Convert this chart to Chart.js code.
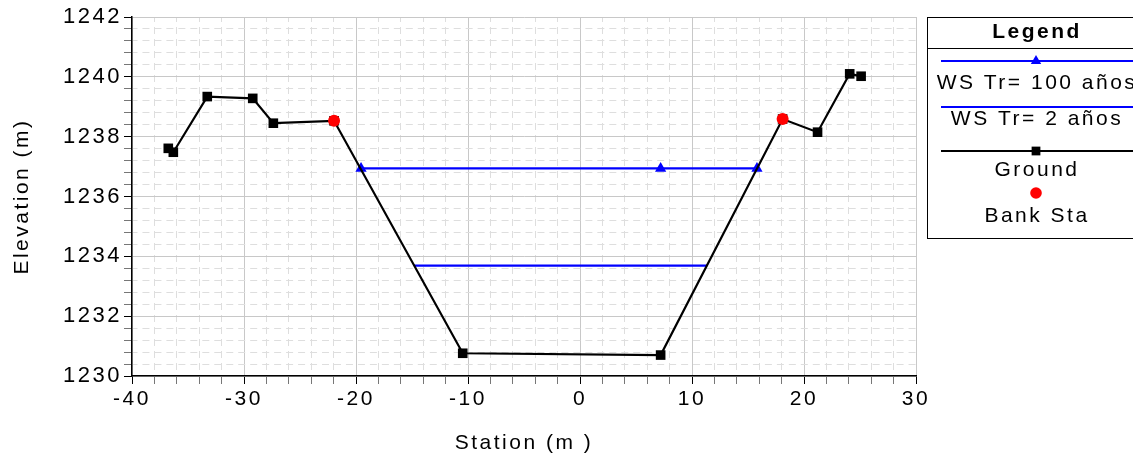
<!DOCTYPE html>
<html>
<head>
<meta charset="utf-8">
<script src="https://cdn.jsdelivr.net/npm/chart.js@4.4.0/dist/chart.umd.min.js"></script>
<style>
  html, body { margin: 0; padding: 0; background: #fff; }
  #chart { display: block; }
</style>
</head>
<body>
<canvas id="chart" width="1133" height="459"></canvas>
<script>
// Cross section data
const groundStation = [-36.76, -36.31, -33.28, -29.22, -27.38, -21.96, -10.47, 7.2, 18.09, 21.21, 24.08, 25.1]
const groundElevation = [1237.61, 1237.48, 1239.34, 1239.28, 1238.45, 1238.53, 1230.76, 1230.70, 1238.59, 1238.15, 1240.10, 1240.02]
const bankStation = [-21.96, 18.09]
const bankElevation = [1238.53, 1238.59]
const ws100Station = [-19.55, 7.2, 15.8]
const ws100Elevation = [1236.94, 1236.94, 1236.94]
const ws2Station = [-14.8, 11.35]
const ws2Elevation = [1233.69, 1233.69]

const xTicks = [-40, -30, -20, -10, 0, 10, 20, 30]
const yTicks = [1230, 1232, 1234, 1236, 1238, 1240, 1242]

const toPoints = (xs, ys) => xs.map((x, i) => ({ x: x, y: ys[i] }))
const isMajor = (value, list) => list.some(v => Math.abs(v - value) < 1e-6)

const FONT = '"Liberation Sans", Arial, sans-serif'
Chart.defaults.font.family = FONT
Chart.defaults.color = '#000'

const SPACING = '2.5px'

// canvas letter spacing, so text widths look like the original
const spacing = {
    id: 'spacing',
    beforeUpdate: (chart) => { chart.ctx.letterSpacing = SPACING },
    beforeDraw: (chart) => { chart.ctx.letterSpacing = SPACING }
}

// boxed legend, symbol above the label
const boxLegend = {
    id: 'boxLegend',
    afterDraw(chart) {
        const { ctx, chartArea } = chart
        const left = chartArea.right + 11
        const top = chartArea.top
        const cx = left + 109
        const rows = [
            { sym: 44, text: 66.5 },
            { sym: 90, text: 102.5 },
            { sym: 134, text: 153.5 },
            { sym: 176, text: 199 }
        ]

        ctx.save()
        ctx.letterSpacing = SPACING
        ctx.strokeStyle = '#000'
        ctx.lineWidth = 1
        ctx.strokeRect(left + 0.5, top + 0.5, 260, 221)
        ctx.beginPath()
        ctx.moveTo(left, top + 31.5)
        ctx.lineTo(left + 260, top + 31.5)
        ctx.stroke()

        ctx.fillStyle = '#000'
        ctx.textAlign = 'center'
        ctx.textBaseline = 'middle'
        ctx.font = 'bold 21px ' + FONT
        ctx.fillText('Legend', cx + 1, top + 15)

        ctx.font = '21px ' + FONT
        chart.data.datasets.forEach((ds, i) => {
            const row = rows[i]
            const y = top + row.sym
            if (ds.showLine) {
                ctx.strokeStyle = ds.borderColor
                ctx.lineWidth = ds.borderWidth
                ctx.beginPath()
                ctx.moveTo(left + 14, y)
                ctx.lineTo(left + 206, y)
                ctx.stroke()
            }
            if (ds.pointRadius > 0) {
                ctx.fillStyle = ds.pointBackgroundColor
                ctx.strokeStyle = ds.pointBackgroundColor
                Chart.helpers.drawPoint(ctx, {
                    pointStyle: ds.pointStyle,
                    radius: ds.legendRadius,
                    rotation: 0,
                    borderWidth: 0
                }, cx, y)
            }
            ctx.fillStyle = '#000'
            ctx.fillText(ds.label, cx + 1, top + row.text)
        })
        ctx.restore()
    }
}

const data = {
    datasets: [
        {
            label: 'WS Tr= 100 años',
            data: toPoints(ws100Station, ws100Elevation),
            showLine: true,
            borderColor: '#0000ff',
            borderWidth: 2.2,
            pointStyle: 'triangle',
            pointRadius: 6.5,
            legendRadius: 6,
            pointBackgroundColor: '#0000ff',
            pointBorderWidth: 0,
            order: 2
        },
        {
            label: 'WS Tr= 2 años',
            data: toPoints(ws2Station, ws2Elevation),
            showLine: true,
            borderColor: '#0000ff',
            borderWidth: 2.2,
            pointRadius: 0,
            legendRadius: 0,
            pointBackgroundColor: '#0000ff',
            order: 3
        },
        {
            label: 'Ground',
            data: toPoints(groundStation, groundElevation),
            showLine: true,
            borderColor: '#000',
            borderWidth: 2.2,
            pointStyle: 'rect',
            pointRadius: 6.8,
            legendRadius: 6.2,
            pointBackgroundColor: '#000',
            pointBorderWidth: 0,
            order: 1
        },
        {
            label: 'Bank Sta',
            data: toPoints(bankStation, bankElevation),
            showLine: false,
            borderColor: '#ff0000',
            pointStyle: 'circle',
            pointRadius: 6,
            legendRadius: 5.8,
            pointBackgroundColor: '#ff0000',
            pointBorderWidth: 0,
            order: 0
        }
    ]
}

const gridFor = (list) => ({
    color: (c) => c.tick && isMajor(c.tick.value, list) ? '#c8c8c8' : '#dedede',
    lineWidth: 1,
    tickLength: 8,
    tickWidth: 1,
    tickColor: (c) => c.tick && isMajor(c.tick.value, list) ? '#000' : '#777',
    tickBorderDash: []
})

const borderFor = (list, dash) => ({
    color: '#000',
    width: 1.5,
    dash: (c) => c.tick && !isMajor(c.tick.value, list) ? dash : [],
    dashOffset: 2
})

const options = {
    responsive: false,
    animation: false,
    layout: {
        padding: { top: 17, right: 217, bottom: 0, left: 0 }
    },
    plugins: {
        legend: { display: false },
        tooltip: { enabled: false }
    },
    elements: {
        line: { tension: 0 }
    },
    scales: {
        x: {
            type: 'linear',
            min: -40,
            max: 30,
            grid: gridFor(xTicks),
            border: borderFor(xTicks, [7, 5]),
            ticks: {
                stepSize: 2,
                autoSkip: false,
                maxRotation: 0,
                padding: 3,
                font: { size: 21 },
                callback: (v) => isMajor(v, xTicks) ? String(Math.round(v)) : ''
            },
            title: {
                display: true,
                text: 'Station (m )',
                font: { size: 21 },
                padding: { top: 0, bottom: 3 }
            },
            afterFit: (scale) => { scale.height = 83 }
        },
        y: {
            type: 'linear',
            min: 1230,
            max: 1242,
            grid: gridFor(yTicks),
            border: borderFor(yTicks, [7, 4.97]),
            ticks: {
                stepSize: 0.4,
                autoSkip: false,
                padding: 2,
                font: { size: 22 },
                callback: (v) => isMajor(v, yTicks) ? String(Math.round(v)) : ''
            },
            title: {
                display: true,
                text: 'Elevation (m)',
                font: { size: 21 },
                padding: { top: 10, bottom: 0 }
            },
            afterFit: (scale) => { scale.width = 132 }
        }
    }
}

new Chart(document.getElementById('chart'), {
    type: 'scatter',
    data: data,
    options: options,
    plugins: [spacing, boxLegend]
})
</script>
</body>
</html>
